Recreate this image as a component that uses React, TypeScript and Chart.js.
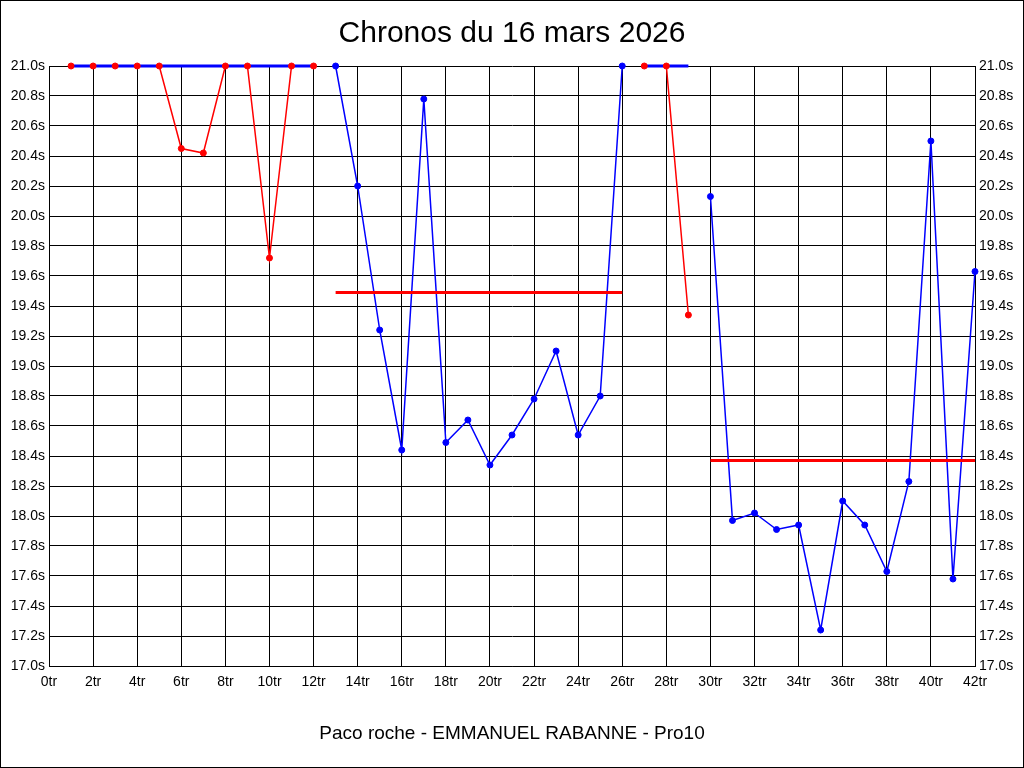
import { useEffect, useRef } from "react";
import { Chart, registerables } from "chart.js";

Chart.register(...registerables);

// laps (tr) and lap times (s) for each run
const seg1Laps = [1, 2, 3, 4, 5, 6, 7, 8, 9, 10, 11, 12];
const seg1Times = [21.0, 21.0, 21.0, 21.0, 21.0, 20.45, 20.42, 21.0, 21.0, 19.72, 21.0, 21.0];

const seg2Laps = [13, 14, 15, 16, 17, 18, 19, 20, 21, 22, 23, 24, 25, 26];
const seg2Times = [21.0, 20.2, 19.24, 18.44, 20.78, 18.49, 18.64, 18.34, 18.54, 18.78, 19.1, 18.54, 18.8, 21.0];

const seg3Laps = [27, 28, 29];
const seg3Times = [21.0, 21.0, 19.34];

const seg4Laps = [30, 31, 32, 33, 34, 35, 36, 37, 38, 39, 40, 41, 42];
const seg4Times = [20.13, 17.97, 18.02, 17.91, 17.94, 17.24, 18.1, 17.94, 17.63, 18.23, 20.5, 17.58, 19.63];

// average time of each run
const averages = [21.0, 19.49, 21.0, 18.37];

const titleText = "Chronos du 16 mars 2026";
const footerText = "Paco roche - EMMANUEL RABANNE - Pro10";

const RED = "#ff0000";
const BLUE = "#0000ff";

Chart.defaults.font.family = "'Liberation Sans', Arial, sans-serif";

const toPoints = (laps: number[], times: number[]) =>
    laps.map((x, i) => ({ x, y: times[i] }));

const avgLine = (laps: number[], avg: number) => [
    { x: laps[0], y: avg },
    { x: laps[laps.length - 1], y: avg },
];

// thin line joining the laps of a run (drawn under the average line)
function lineSet(laps: number[], times: number[], color: string) {
    return {
        data: toPoints(laps, times),
        borderColor: color,
        backgroundColor: color,
        borderWidth: 1.5,
        pointRadius: 0,
        clip: false as const,
    };
}

// dots only, drawn on top of everything
function dotSet(laps: number[], times: number[], color: string) {
    return {
        data: toPoints(laps, times),
        showLine: false,
        borderColor: color,
        backgroundColor: color,
        pointRadius: 3,
        pointBorderWidth: 1,
        pointBackgroundColor: color,
        pointBorderColor: color,
        clip: false as const,
    };
}

function avgSet(laps: number[], avg: number, color: string) {
    return {
        data: avgLine(laps, avg),
        borderColor: color,
        backgroundColor: color,
        borderWidth: 3,
        pointRadius: 0,
        clip: false as const,
    };
}

const frame = {
    id: "frame",
    afterDraw(chart: Chart) {
        const ctx = chart.ctx;
        ctx.save();
        ctx.strokeStyle = "#000";
        ctx.lineWidth = 1;
        ctx.strokeRect(0.5, 0.5, chart.width - 1, chart.height - 1);
        ctx.restore();
    },
};

export default function App() {
    const chartRef = useRef<HTMLCanvasElement | null>(null);
    const chartInstanceRef = useRef<Chart | null>(null);

    useEffect(() => {
        if (chartInstanceRef.current) {
            chartInstanceRef.current.destroy();
        }
        if (!chartRef.current) return;

        const yTicks = {
            stepSize: 0.2,
            autoSkip: false,
            color: "#000",
            padding: 4,
            font: { size: 14 },
            callback: (v: any) => Number(v).toFixed(1) + "s",
        };

        // lower index is drawn on top
        chartInstanceRef.current = new Chart(chartRef.current, {
            type: "line",
            data: {
                datasets: [
                    dotSet(seg1Laps, seg1Times, RED),
                    dotSet(seg2Laps, seg2Times, BLUE),
                    dotSet(seg3Laps, seg3Times, RED),
                    dotSet(seg4Laps, seg4Times, BLUE),
                    avgSet(seg1Laps, averages[0], BLUE),
                    avgSet(seg2Laps, averages[1], RED),
                    avgSet(seg3Laps, averages[2], BLUE),
                    avgSet(seg4Laps, averages[3], RED),
                    lineSet(seg1Laps, seg1Times, RED),
                    lineSet(seg2Laps, seg2Times, BLUE),
                    lineSet(seg3Laps, seg3Times, RED),
                    lineSet(seg4Laps, seg4Times, BLUE),
                ],
            },
            options: {
                responsive: false,
                animation: false,
                layout: { padding: 0 },
                plugins: {
                    legend: { display: false },
                    tooltip: { enabled: false },
                    title: {
                        display: true,
                        text: titleText,
                        color: "#000",
                        font: { size: 30, weight: "normal" },
                        padding: { top: 16, bottom: 14 },
                    },
                },
                scales: {
                    x: {
                        type: "linear",
                        min: 0,
                        max: 42,
                        ticks: {
                            stepSize: 2,
                            autoSkip: false,
                            maxRotation: 0,
                            color: "#000",
                            padding: 8,
                            font: { size: 14 },
                            callback: (v: any) => v + "tr",
                        },
                        grid: { color: "#000", lineWidth: 1, drawTicks: false },
                        border: { color: "#000" },
                        title: {
                            display: true,
                            text: footerText,
                            color: "#000",
                            font: { size: 19 },
                            padding: { top: 0, bottom: 23 },
                        },
                        afterFit: (scale: any) => {
                            scale.height = 102;
                        },
                    },
                    y: {
                        position: "left",
                        min: 17,
                        max: 21,
                        ticks: yTicks,
                        grid: { color: "#000", lineWidth: 1, drawTicks: false },
                        border: { color: "#000" },
                        afterFit: (scale: any) => {
                            scale.width = 49;
                        },
                    },
                    y2: {
                        position: "right",
                        min: 17,
                        max: 21,
                        ticks: yTicks,
                        grid: { display: false, drawTicks: false },
                        border: { color: "#000" },
                        afterFit: (scale: any) => {
                            scale.width = 49;
                        },
                    },
                },
            },
            plugins: [frame],
        });

        return () => {
            if (chartInstanceRef.current) {
                chartInstanceRef.current.destroy();
                chartInstanceRef.current = null;
            }
        };
    }, []);

    return (
        <div style={{ position: "fixed", left: 0, top: 0, width: 1024, height: 768, background: "#fff" }}>
            <canvas ref={chartRef} width={1024} height={768} style={{ display: "block" }} />
        </div>
    );
}
